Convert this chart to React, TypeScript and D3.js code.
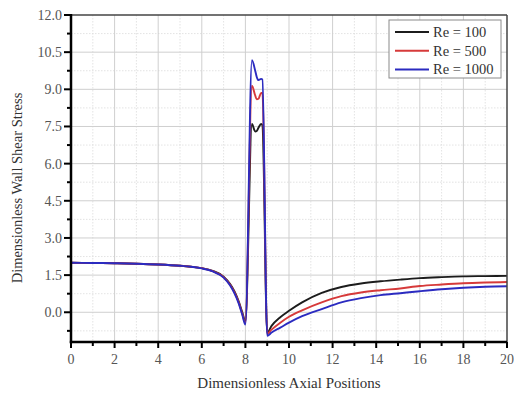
import React from "react";
import * as d3 from "d3";

// Axial positions sampled along the vessel (shared by all three series)
const X_POS = [
  0, 1, 2, 3, 4, 5, 5.5, 6, 6.5, 7, 7.3, 7.5, 7.7, 7.85, 8.0,
  8.3, 8.45, 8.52, 8.6, 8.72, 8.78, 9.0, 9.2, 9.6, 10.0, 10.6, 11.5,
  12.4, 13.3, 14.2, 15.1, 16, 17, 18, 19, 20,
];

// Dimensionless wall shear stress per Reynolds number
const RE_100 = [
  2.0, 1.99, 1.98, 1.96, 1.93, 1.88, 1.84, 1.78, 1.67, 1.44, 1.14, 0.84, 0.42, 0.02, -0.35,
  7.6, 7.3, 7.32, 7.45, 7.6, 7.55, -0.82, -0.55, -0.2, 0.06, 0.4, 0.78,
  1.02, 1.16, 1.25, 1.32, 1.38, 1.42, 1.45, 1.46, 1.47,
];
const RE_500 = [
  2.0, 1.99, 1.98, 1.96, 1.93, 1.88, 1.84, 1.78, 1.66, 1.42, 1.11, 0.8, 0.38, -0.04, -0.42,
  9.15, 8.75, 8.6, 8.62, 8.85, 8.85, -0.87, -0.7, -0.42, -0.18, 0.08, 0.4,
  0.65, 0.8, 0.89, 0.96, 1.06, 1.12, 1.17, 1.2, 1.22,
];
const RE_1000 = [
  2.0, 1.99, 1.98, 1.96, 1.93, 1.88, 1.84, 1.77, 1.65, 1.4, 1.08, 0.76, 0.34, -0.08, -0.5,
  10.18, 9.75, 9.5, 9.37, 9.42, 9.4, -0.95, -0.82, -0.62, -0.42, -0.16, 0.13,
  0.4, 0.57, 0.69, 0.77, 0.85, 0.93, 0.99, 1.03, 1.05,
];

const SERIES_NAMES = ["Re = 100", "Re = 500", "Re = 1000"];
const SERIES_COLORS = ["#1c1c1c", "#d63a3a", "#2b2bc0"];
const SERIES_VALUES = [RE_100, RE_500, RE_1000];

const X_TICKS = [0, 2, 4, 6, 8, 10, 12, 14, 16, 18, 20];
const Y_TICKS = [0, 1.5, 3, 4.5, 6, 7.5, 9, 10.5, 12];

const W = 514;
const H = 397;
const M = { left: 71, right: 7, top: 15, bottom: 55 };
const FONT = "'Liberation Serif', 'Times New Roman', serif";

export default function App() {
  const x = d3.scaleLinear().domain([0, 20]).range([M.left, W - M.right]);
  const y = d3.scaleLinear().domain([-1.2, 12]).range([H - M.bottom, M.top]);

  const xMinor = d3.range(1, 20, 2);
  const yMinor = d3.range(-0.75, 12, 1.5);

  const line = d3
    .line<number>()
    .x((_, i) => x(X_POS[i]))
    .y((d) => y(d))
    .curve(d3.curveMonotoneX);

  const x0 = x(0);
  const x1 = x(20);
  const yB = y(-1.2);
  const yT = y(12);

  return (
    <svg
      width={W}
      height={H}
      style={{ position: "absolute", left: 0, top: 0, background: "#fff" }}
      fontFamily={FONT}
    >
      {/* grid */}
      <g>
        {xMinor.map((v) => (
          <line key={"xm" + v} x1={x(v)} x2={x(v)} y1={yT} y2={yB}
            stroke="#dcdcdc" strokeWidth={0.8} strokeDasharray="1.5,1.5" />
        ))}
        {yMinor.map((v) => (
          <line key={"ym" + v} x1={x0} x2={x1} y1={y(v)} y2={y(v)}
            stroke="#dcdcdc" strokeWidth={0.8} strokeDasharray="1.5,1.5" />
        ))}
        {X_TICKS.slice(1, -1).map((v) => (
          <line key={"xg" + v} x1={x(v)} x2={x(v)} y1={yT} y2={yB}
            stroke="#cfcfcf" strokeWidth={1} />
        ))}
        {Y_TICKS.slice(0, -1).map((v) => (
          <line key={"yg" + v} x1={x0} x2={x1} y1={y(v)} y2={y(v)}
            stroke="#cfcfcf" strokeWidth={1} />
        ))}
      </g>

      {/* series */}
      <g fill="none" strokeWidth={1.9} strokeLinejoin="round">
        {SERIES_VALUES.map((vals, i) => (
          <path key={SERIES_NAMES[i]} d={line(vals) ?? ""} stroke={SERIES_COLORS[i]} />
        ))}
      </g>

      {/* frame */}
      <line x1={x0} x2={x1} y1={yT} y2={yT} stroke="#444" strokeWidth={1.5} />
      <line x1={x1} x2={x1} y1={yT} y2={yB} stroke="#444" strokeWidth={1.5} />
      <line x1={x0} x2={x0} y1={yT - 1} y2={yB + 1.2} stroke="#000" strokeWidth={2.5} />
      <line x1={x0 - 1.2} x2={x1} y1={yB} y2={yB} stroke="#000" strokeWidth={2.5} />

      {/* x axis ticks */}
      <g>
        {X_TICKS.map((v) => (
          <g key={"xt" + v}>
            <line x1={x(v)} x2={x(v)} y1={yB} y2={yB + 6} stroke="#000" strokeWidth={2} />
            <text x={x(v)} y={yB + 22} textAnchor="middle" fontSize={14} fill="#555">
              {v}
            </text>
          </g>
        ))}
        {xMinor.map((v) => (
          <line key={"xmt" + v} x1={x(v)} x2={x(v)} y1={yB} y2={yB + 4} stroke="#000" strokeWidth={2} />
        ))}
      </g>

      {/* y axis ticks */}
      <g>
        {Y_TICKS.map((v) => (
          <g key={"yt" + v}>
            <line x1={x0 - 7} x2={x0} y1={y(v)} y2={y(v)} stroke="#000" strokeWidth={2} />
            <text x={x0 - 9} y={y(v)} dy="0.35em" textAnchor="end" fontSize={14} fill="#555">
              {d3.format(".1f")(v)}
            </text>
          </g>
        ))}
        {yMinor.map((v) => (
          <line key={"ymt" + v} x1={x0 - 4} x2={x0} y1={y(v)} y2={y(v)} stroke="#000" strokeWidth={2} />
        ))}
      </g>

      {/* axis titles */}
      <text x={(x0 + x1) / 2} y={388} textAnchor="middle" fontSize={15} fill="#333">
        Dimensionless Axial Positions
      </text>
      <text
        transform="translate(22, 188) rotate(-90)"
        textAnchor="middle"
        fontSize={14.5}
        fill="#333"
      >
        Dimensionless Wall Shear Stress
      </text>

      {/* legend */}
      <g transform="translate(389, 20)">
        <rect x={0} y={0} width={112} height={58} fill="#fff" stroke="#8a8a8a" strokeWidth={1} />
        {SERIES_NAMES.map((name, i) => (
          <g key={name} transform={`translate(0, ${12 + i * 18.7})`}>
            <line x1={6} x2={40} y1={0} y2={0} stroke={SERIES_COLORS[i]} strokeWidth={2} />
            <text x={44} y={0} dy="0.35em" fontSize={14.5} fill="#333">
              {name}
            </text>
          </g>
        ))}
      </g>
    </svg>
  );
}
